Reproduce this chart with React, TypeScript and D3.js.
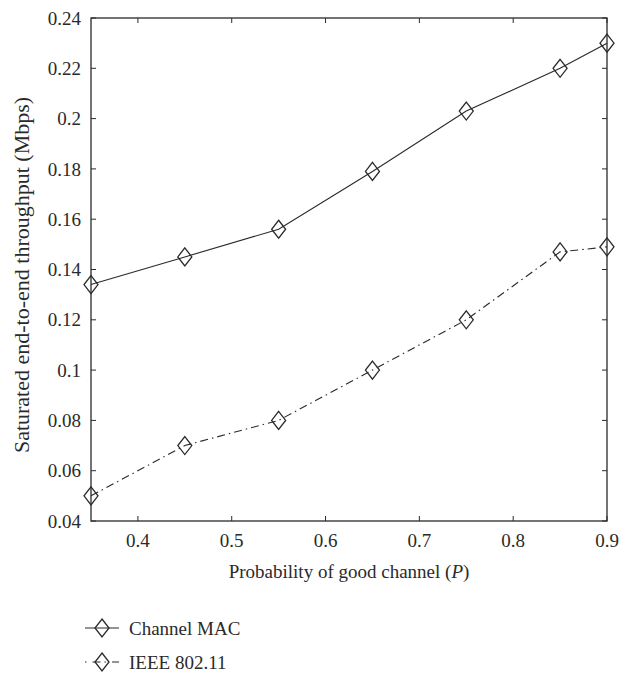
import React from "react";
import * as d3 from "d3";

const xValues = [0.35, 0.45, 0.55, 0.65, 0.75, 0.85, 0.9];
const channelMac = [0.134, 0.145, 0.156, 0.179, 0.203, 0.22, 0.23];
const ieee80211 = [0.05, 0.07, 0.08, 0.1, 0.12, 0.147, 0.149];
const xTicks = [0.4, 0.5, 0.6, 0.7, 0.8, 0.9];
const yTicks = [0.04, 0.06, 0.08, 0.1, 0.12, 0.14, 0.16, 0.18, 0.2, 0.22, 0.24];
const seriesNames = ["Channel MAC", "IEEE 802.11"];

const W = 631, H = 673;
const m = { left: 91, right: 607, top: 18, bottom: 521 };
const FONT = "Liberation Serif";
const FS = 19;
const INK = "#2a2a2a";
const DASH = "8,4,1.5,4";

function Diamond({ x, y }: { x: number; y: number }) {
  const w = 7, h = 9;
  return (
    <path
      d={`M${x},${y - h}L${x + w},${y}L${x},${y + h}L${x - w},${y}Z`}
      fill="none"
      stroke={INK}
      strokeWidth={1.3}
    />
  );
}

export default function App() {
  const x = d3.scaleLinear().domain([0.35, 0.9]).range([m.left, m.right]);
  const y = d3.scaleLinear().domain([0.04, 0.24]).range([m.bottom, m.top]);
  const line = d3
    .line<[number, number]>()
    .x((d) => x(d[0]))
    .y((d) => y(d[1]));
  const s1 = xValues.map((v, i) => [v, channelMac[i]] as [number, number]);
  const s2 = xValues.map((v, i) => [v, ieee80211[i]] as [number, number]);
  const tl = 5;
  const fmt = (v: number) => String(+v.toFixed(2));

  return (
    <svg width={W} height={H} style={{ position: "absolute", left: 0, top: 0, background: "#fff" }}>
      <rect x={0} y={0} width={W} height={H} fill="#fff" />
      {xTicks.map((t) => (
        <g key={"xt" + t}>
          <line x1={x(t)} x2={x(t)} y1={m.bottom} y2={m.bottom - tl} stroke={INK} strokeWidth={1} />
          <line x1={x(t)} x2={x(t)} y1={m.top} y2={m.top + tl} stroke={INK} strokeWidth={1} />
          <text x={x(t)} y={547} textAnchor="middle" fontFamily={FONT} fontSize={FS} fill={INK}>
            {fmt(t)}
          </text>
        </g>
      ))}
      {yTicks.map((t) => (
        <g key={"yt" + t}>
          <line x1={m.left} x2={m.left + tl} y1={y(t)} y2={y(t)} stroke={INK} strokeWidth={1} />
          <line x1={m.right} x2={m.right - tl} y1={y(t)} y2={y(t)} stroke={INK} strokeWidth={1} />
          <text x={81} y={y(t)} dy="0.35em" textAnchor="end" fontFamily={FONT} fontSize={FS} fill={INK}>
            {fmt(t)}
          </text>
        </g>
      ))}
      <rect
        x={m.left}
        y={m.top}
        width={m.right - m.left}
        height={m.bottom - m.top}
        fill="none"
        stroke={INK}
        strokeWidth={1.3}
      />
      <path d={line(s1) || ""} fill="none" stroke={INK} strokeWidth={1.1} />
      <path d={line(s2) || ""} fill="none" stroke={INK} strokeWidth={1.1} strokeDasharray={DASH} />
      {s1.map((d, i) => (
        <Diamond key={"a" + i} x={x(d[0])} y={y(d[1])} />
      ))}
      {s2.map((d, i) => (
        <Diamond key={"b" + i} x={x(d[0])} y={y(d[1])} />
      ))}
      <text x={(m.left + m.right) / 2} y={578} textAnchor="middle" fontFamily={FONT} fontSize={FS} fill={INK}>
        Probability of good channel (<tspan fontStyle="italic">P</tspan>)
      </text>
      <text
        transform={`translate(21, 275) rotate(-90)`}
        textAnchor="middle"
        dy="0.35em"
        fontFamily={FONT}
        fontSize={22}
        fill={INK}
      >
        Saturated end-to-end throughput (Mbps)
      </text>
      {seriesNames.map((name, i) => {
        const cy = 628 + i * 34;
        return (
          <g key={name}>
            <line
              x1={85}
              x2={119}
              y1={cy}
              y2={cy}
              stroke={INK}
              strokeWidth={1.1}
              strokeDasharray={i === 1 ? "1.5,6,8,4" : undefined}
            />
            <Diamond x={102} y={cy} />
            <text x={129} y={cy} dy="0.35em" fontFamily={FONT} fontSize={FS} fill={INK}>
              {name}
            </text>
          </g>
        );
      })}
    </svg>
  );
}
